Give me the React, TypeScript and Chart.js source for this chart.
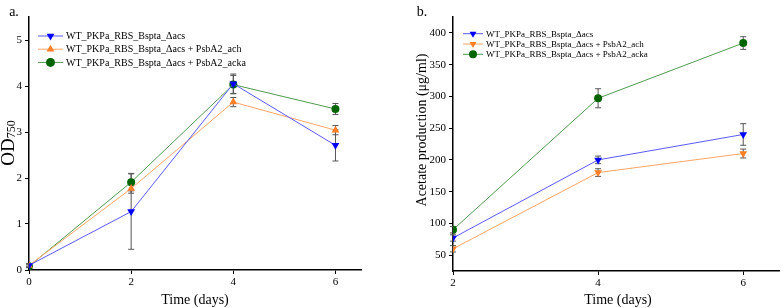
import React, { useEffect, useRef } from 'react';
import { Chart, registerables } from 'chart.js';
Chart.register(...registerables);

// ---------- data ----------
const daysA = [0, 2, 4, 6];
const odWT = [0.1, 1.27, 4.05, 2.71];
const odWTErr = [0.04, 0.82, 0.21, 0.34];
const odAch = [0.1, 1.77, 3.65, 3.04];
const odAchErr = [0.03, 0.1, 0.1, 0.1];
const odAcka = [0.08, 1.91, 4.03, 3.5];
const odAckaErr = [0.03, 0.19, 0.2, 0.12];
const ticksAX = [0, 2, 4, 6];
const ticksAY = [0, 1, 2, 3, 4, 5];

const daysB = [2, 4, 6];
const acWT = [77, 200, 240];
const acWTErr = [5, 6, 17];
const acAch = [60, 180, 210];
const acAchErr = [5, 6, 7];
const acAcka = [90, 297, 384];
const acAckaErr = [5, 15, 10];
const ticksBX = [2, 4, 6];
const ticksBY = [50, 100, 150, 200, 250, 300, 350, 400];

const labelWT = 'WT_PKPa_RBS_Bspta_Δacs';
const labelAch = 'WT_PKPa_RBS_Bspta_Δacs + PsbA2_ach';
const labelAcka = 'WT_PKPa_RBS_Bspta_Δacs + PsbA2_acka';

const FONT = "'Liberation Serif', 'Times New Roman', serif";

const BLUE_L = '#5a5aff', BLUE_M = '#0000ff';
const ORANGE_L = '#ffa566', ORANGE_M = '#ff7f27';
const GREEN_L = '#4f9a4f', GREEN_M = '#006400';

function drawMarker(ctx: CanvasRenderingContext2D, style: string, rot: number, x: number, y: number, r: number, color: string) {
  ctx.save();
  ctx.fillStyle = color;
  ctx.beginPath();
  if (style === 'circle') {
    ctx.arc(x, y, r, 0, Math.PI * 2);
  } else {
    let rad = (rot * Math.PI) / 180;
    ctx.moveTo(x + Math.sin(rad) * r, y - Math.cos(rad) * r);
    rad += (2 * Math.PI) / 3;
    ctx.lineTo(x + Math.sin(rad) * r, y - Math.cos(rad) * r);
    rad += (2 * Math.PI) / 3;
    ctx.lineTo(x + Math.sin(rad) * r, y - Math.cos(rad) * r);
  }
  ctx.closePath();
  ctx.fill();
  ctx.restore();
}

const errorBarPlugin = {
  id: 'errorBars',
  beforeDatasetsDraw(chart: any) {
    const ctx = chart.ctx;
    const xs = chart.scales.x, ys = chart.scales.y;
    ctx.save();
    ctx.strokeStyle = '#555';
    ctx.lineWidth = 1;
    chart.data.datasets.forEach((ds: any) => {
      const errs: number[] = ds.errors || [];
      ds.data.forEach((p: any, i: number) => {
        const e = errs[i];
        if (!e) return;
        const px = xs.getPixelForValue(p.x);
        const y1 = ys.getPixelForValue(p.y + e);
        const y2 = ys.getPixelForValue(p.y - e);
        ctx.beginPath();
        ctx.moveTo(px, y1); ctx.lineTo(px, y2);
        ctx.moveTo(px - 3, y1); ctx.lineTo(px + 3, y1);
        ctx.moveTo(px - 3, y2); ctx.lineTo(px + 3, y2);
        ctx.stroke();
      });
    });
    ctx.restore();
  },
};

const legendPlugin = {
  id: 'innerLegend',
  afterDraw(chart: any, _args: any, opts: any) {
    const ctx = chart.ctx;
    ctx.save();
    ctx.font = `${opts.fontSize}px ${FONT}`;
    ctx.textBaseline = 'middle';
    ctx.fillStyle = '#000';
    chart.data.datasets.forEach((ds: any, i: number) => {
      const y = opts.y + i * opts.rowH;
      ctx.strokeStyle = ds.borderColor;
      ctx.lineWidth = 1;
      ctx.beginPath();
      ctx.moveTo(opts.x, y); ctx.lineTo(opts.x + opts.lineLen, y);
      ctx.stroke();
      drawMarker(ctx, ds.pointStyle, ds.pointRotation || 0, opts.x + opts.lineLen / 2, y, opts.markerR, ds.pointBackgroundColor);
      ctx.fillStyle = '#000';
      ctx.fillText(ds.label, opts.x + opts.lineLen + opts.gap, y + 0.5);
    });
    ctx.restore();
  },
};

const titlesPlugin = {
  id: 'titles',
  afterDraw(chart: any, _args: any, opts: any) {
    const ctx = chart.ctx;
    ctx.save();
    ctx.fillStyle = '#000';
    (opts.items || []).forEach((it: any) => {
      ctx.save();
      ctx.translate(it.x, it.y);
      if (it.rotate) ctx.rotate(it.rotate);
      ctx.textBaseline = 'alphabetic';
      if (it.sub) {
        ctx.font = `${it.size}px ${FONT}`;
        const w1 = ctx.measureText(it.text).width;
        ctx.font = `${it.subSize}px ${FONT}`;
        const w2 = ctx.measureText(it.sub).width;
        const start = -(w1 + w2) / 2;
        ctx.textAlign = 'left';
        ctx.font = `${it.size}px ${FONT}`;
        ctx.fillText(it.text, start, it.size * 0.35);
        ctx.font = `${it.subSize}px ${FONT}`;
        ctx.fillText(it.sub, start + w1, it.size * 0.35 + it.subSize * 0.1);
      } else {
        ctx.textBaseline = 'middle';
        ctx.textAlign = it.align || 'center';
        ctx.font = `${it.size}px ${FONT}`;
        ctx.fillText(it.text, 0, 0);
      }
      ctx.restore();
    });
    ctx.restore();
  },
};

function makeDataset(label: string, xs: number[], ys: number[], errs: number[], lineC: string, markC: string, style: string, rot: number, r: number) {
  return {
    label,
    data: xs.map((x, i) => ({ x, y: ys[i] })),
    errors: errs,
    borderColor: lineC,
    borderWidth: 1,
    pointStyle: style,
    pointRotation: rot,
    pointRadius: r,
    pointBackgroundColor: markC,
    pointBorderColor: markC,
    pointBorderWidth: 0,
    fill: false,
    tension: 0,
  };
}

function axisOpts(min: number, max: number, ticks: number[], size: number, isX: boolean) {
  return {
    type: 'linear',
    min,
    max,
    afterBuildTicks: (s: any) => { s.ticks = ticks.map((v) => ({ value: v })); },
    afterFit: (s: any) => { if (isX) s.height = size; else s.width = size; },
    border: { display: true, color: '#000', width: 1.5 },
    grid: { display: true, drawOnChartArea: false, drawTicks: true, tickLength: 4, color: '#000', lineWidth: 1 },
    ticks: { color: '#000', font: { family: FONT, size: 11 }, padding: isX ? 2 : 3, maxRotation: 0, autoSkip: false },
    title: { display: false },
  };
}

function ChartCanvas({ config, left }: { config: any; left: number }) {
  const ref = useRef<HTMLCanvasElement | null>(null);
  useEffect(() => {
    if (!ref.current) return;
    const c = new Chart(ref.current, config);
    return () => c.destroy();
  }, []);
  return (
    <div style={{ position: 'absolute', left, top: 0, width: 392, height: 308 }}>
      <canvas ref={ref} />
    </div>
  );
}

const configA = {
  type: 'line',
  data: {
    datasets: [
      makeDataset(labelWT, daysA, odWT, odWTErr, BLUE_L, BLUE_M, 'triangle', 180, 4.5),
      makeDataset(labelAch, daysA, odAch, odAchErr, ORANGE_L, ORANGE_M, 'triangle', 0, 4.5),
      makeDataset(labelAcka, daysA, odAcka, odAckaErr, GREEN_L, GREEN_M, 'circle', 0, 4),
    ],
  },
  options: {
    animation: false,
    responsive: true,
    maintainAspectRatio: false,
    events: [],
    layout: { padding: { top: 17, right: 31, left: 0, bottom: 0 } },
    scales: {
      x: axisOpts(0, 6.5, ticksAX, 38, true),
      y: axisOpts(0, 5.5, ticksAY, 29, false),
    },
    plugins: {
      legend: { display: false },
      tooltip: { enabled: false },
      innerLegend: { x: 38, y: 36, rowH: 13.2, lineLen: 25, gap: 3, markerR: 4.5, fontSize: 10 },
      titles: {
        items: [
          { text: 'a.', x: 14, y: 12, size: 14 },
          { text: 'Time (days)', x: 195, y: 300, size: 14 },
          { text: 'OD', sub: '750', x: 7, y: 143, size: 19, subSize: 12, rotate: -Math.PI / 2 },
        ],
      },
    },
  },
  plugins: [errorBarPlugin, legendPlugin, titlesPlugin],
};

const configB = {
  type: 'line',
  data: {
    datasets: [
      makeDataset(labelWT, daysB, acWT, acWTErr, BLUE_L, BLUE_M, 'triangle', 180, 4.5),
      makeDataset(labelAch, daysB, acAch, acAchErr, ORANGE_L, ORANGE_M, 'triangle', 180, 4.5),
      makeDataset(labelAcka, daysB, acAcka, acAckaErr, GREEN_L, GREEN_M, 'circle', 0, 4),
    ],
  },
  options: {
    animation: false,
    responsive: true,
    maintainAspectRatio: false,
    events: [],
    layout: { padding: { top: 17, right: 2, left: 0, bottom: 0 } },
    scales: {
      x: axisOpts(2, 6.5, ticksBX, 37, true),
      y: axisOpts(25, 425, ticksBY, 61, false),
    },
    plugins: {
      legend: { display: false },
      tooltip: { enabled: false },
      innerLegend: { x: 71, y: 33.7, rowH: 10.3, lineLen: 20, gap: 3, markerR: 4, fontSize: 9 },
      titles: {
        items: [
          { text: 'b.', x: 30, y: 12, size: 14 },
          { text: 'Time (days)', x: 226, y: 300, size: 14 },
          { text: 'Acetate production (μg/ml)', x: 30, y: 130, size: 14, rotate: -Math.PI / 2 },
        ],
      },
    },
  },
  plugins: [errorBarPlugin, legendPlugin, titlesPlugin],
};

export default function App() {
  useEffect(() => {
    document.body.style.margin = '0';
  }, []);
  return (
    <div style={{ position: 'fixed', left: 0, top: 0, width: 784, height: 308, background: '#fff' }}>
      <ChartCanvas config={configA} left={0} />
      <ChartCanvas config={configB} left={392} />
    </div>
  );
}
